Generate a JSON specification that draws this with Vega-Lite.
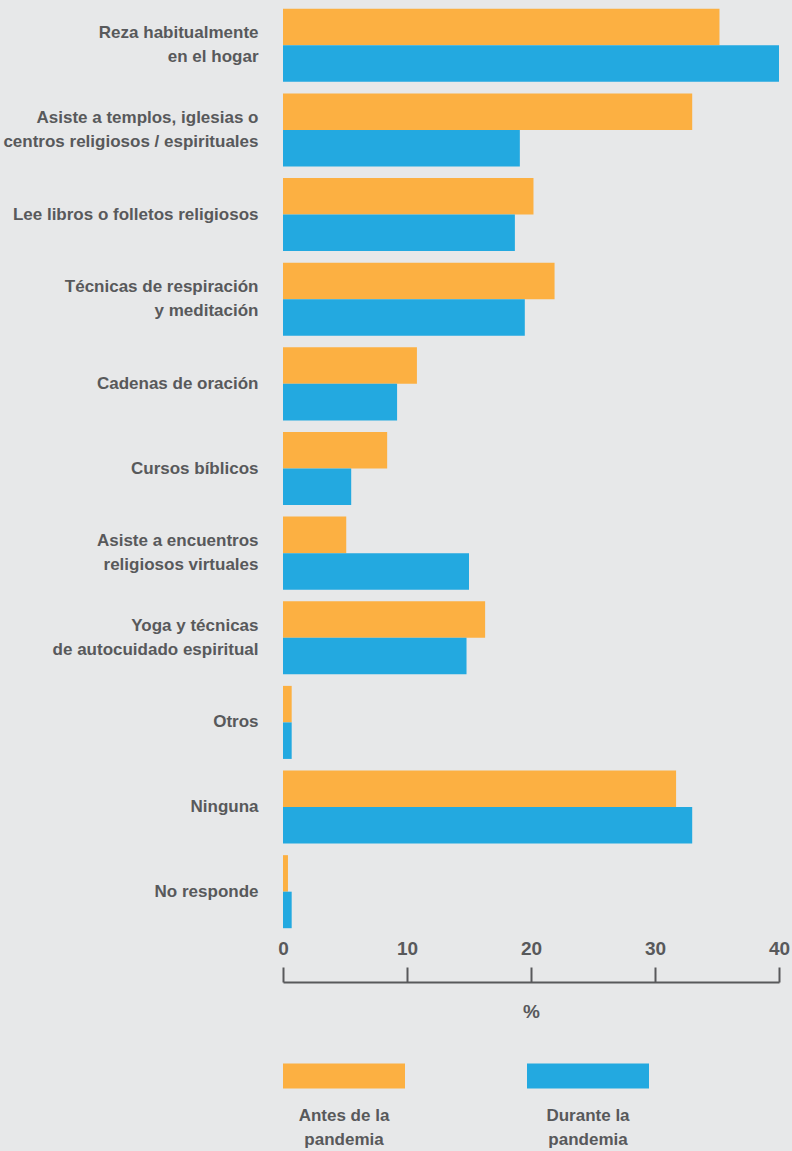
{
  "$schema": "https://vega.github.io/schema/vega-lite/v6.json",
  "autosize": "none",
  "padding": {"left": 283, "top": 3, "right": 13, "bottom": 217},
  "width": 496,
  "height": 931,
  "background": "#E7E8E9",
  "config": {
    "view": {"stroke": null},
    "font": "Liberation Sans",
    "axis": {"labelFont": "Liberation Sans", "titleFont": "Liberation Sans"},
    "legend": {"labelFont": "Liberation Sans"}
  },
  "data": {
    "values": [
      {"actividad": "Reza habitualmente\nen el hogar", "periodo": "Antes de la pandemia", "pct": 35.2},
      {"actividad": "Reza habitualmente\nen el hogar", "periodo": "Durante la pandemia", "pct": 40.0},
      {"actividad": "Asiste a templos, iglesias o\ncentros religiosos / espirituales", "periodo": "Antes de la pandemia", "pct": 33.0},
      {"actividad": "Asiste a templos, iglesias o\ncentros religiosos / espirituales", "periodo": "Durante la pandemia", "pct": 19.1},
      {"actividad": "Lee libros o folletos religiosos", "periodo": "Antes de la pandemia", "pct": 20.2},
      {"actividad": "Lee libros o folletos religiosos", "periodo": "Durante la pandemia", "pct": 18.7},
      {"actividad": "Técnicas de respiración\ny meditación", "periodo": "Antes de la pandemia", "pct": 21.9},
      {"actividad": "Técnicas de respiración\ny meditación", "periodo": "Durante la pandemia", "pct": 19.5},
      {"actividad": "Cadenas de oración", "periodo": "Antes de la pandemia", "pct": 10.8},
      {"actividad": "Cadenas de oración", "periodo": "Durante la pandemia", "pct": 9.2},
      {"actividad": "Cursos bíblicos", "periodo": "Antes de la pandemia", "pct": 8.4},
      {"actividad": "Cursos bíblicos", "periodo": "Durante la pandemia", "pct": 5.5},
      {"actividad": "Asiste a encuentros\nreligiosos virtuales", "periodo": "Antes de la pandemia", "pct": 5.1},
      {"actividad": "Asiste a encuentros\nreligiosos virtuales", "periodo": "Durante la pandemia", "pct": 15.0},
      {"actividad": "Yoga y técnicas\nde autocuidado espiritual", "periodo": "Antes de la pandemia", "pct": 16.3},
      {"actividad": "Yoga y técnicas\nde autocuidado espiritual", "periodo": "Durante la pandemia", "pct": 14.8},
      {"actividad": "Otros", "periodo": "Antes de la pandemia", "pct": 0.7},
      {"actividad": "Otros", "periodo": "Durante la pandemia", "pct": 0.7},
      {"actividad": "Ninguna", "periodo": "Antes de la pandemia", "pct": 31.7},
      {"actividad": "Ninguna", "periodo": "Durante la pandemia", "pct": 33.0},
      {"actividad": "No responde", "periodo": "Antes de la pandemia", "pct": 0.4},
      {"actividad": "No responde", "periodo": "Durante la pandemia", "pct": 0.7}
    ]
  },
  "mark": {"type": "bar", "cornerRadius": 0},
  "encoding": {
    "y": {
      "field": "actividad",
      "type": "nominal",
      "sort": null,
      "scale": {"paddingInner": 0.137, "paddingOuter": 0.0685},
      "axis": {
        "title": null,
        "domain": false,
        "ticks": false,
        "labelPadding": 25,
        "labelFontSize": 17,
        "labelFontWeight": "bold",
        "labelColor": "#58595B",
        "labelLineHeight": 24,
        "labelLimit": 400,
        "labelExpr": "split(datum.label, '\\n')",
        "labelOffset": {"condition": {"test": "indexof(datum.value, '\\n') >= 0", "value": -12}, "value": 0}
      }
    },
    "yOffset": {"field": "periodo", "type": "nominal", "sort": ["Antes de la pandemia", "Durante la pandemia"]},
    "x": {
      "field": "pct",
      "type": "quantitative",
      "scale": {"domain": [0, 40], "nice": false},
      "axis": {
        "title": "%",
        "values": [0, 10, 20, 30, 40],
        "grid": false,
        "offset": 48,
        "domainColor": "#58595B",
        "domainWidth": 2,
        "tickColor": "#58595B",
        "tickWidth": 2,
        "tickSize": -15,
        "labelPadding": -13,
        "labelBaseline": "alphabetic",
        "labelFlush": false,
        "labelFontSize": 19,
        "labelFontWeight": "bold",
        "labelColor": "#58595B",
        "titleFontSize": 19,
        "titleFontWeight": "bold",
        "titleColor": "#58595B",
        "titleBaseline": "alphabetic",
        "titleY": 35
      }
    },
    "color": {
      "field": "periodo",
      "type": "nominal",
      "scale": {"domain": ["Antes de la pandemia", "Durante la pandemia"], "range": ["#FCB042", "#23A9E0"]},
      "legend": {
        "title": null,
        "orient": "none",
        "direction": "horizontal",
        "legendX": 0,
        "legendY": 1012,
        "padding": 0,
        "columnPadding": 122,
        "symbolType": "M-1,-0.205H1V0.205H-1Z",
        "symbolSize": 14884,
        "symbolStrokeWidth": 0,
        "symbolOpacity": 1,
        "labelOffset": -61,
        "labelAlign": "center",
        "labelBaseline": "alphabetic",
        "labelFontSize": 17,
        "labelFontWeight": "bold",
        "labelColor": "#58595B",
        "labelLimit": 300,
        "labelExpr": "datum.label == 'Antes de la pandemia' ? ['Antes de la', 'pandemia'] : ['Durante la', 'pandemia']",
        "encode": {"labels": {"update": {"dy": {"value": 45}, "lineHeight": {"value": 24}}}}
      }
    }
  }
}
